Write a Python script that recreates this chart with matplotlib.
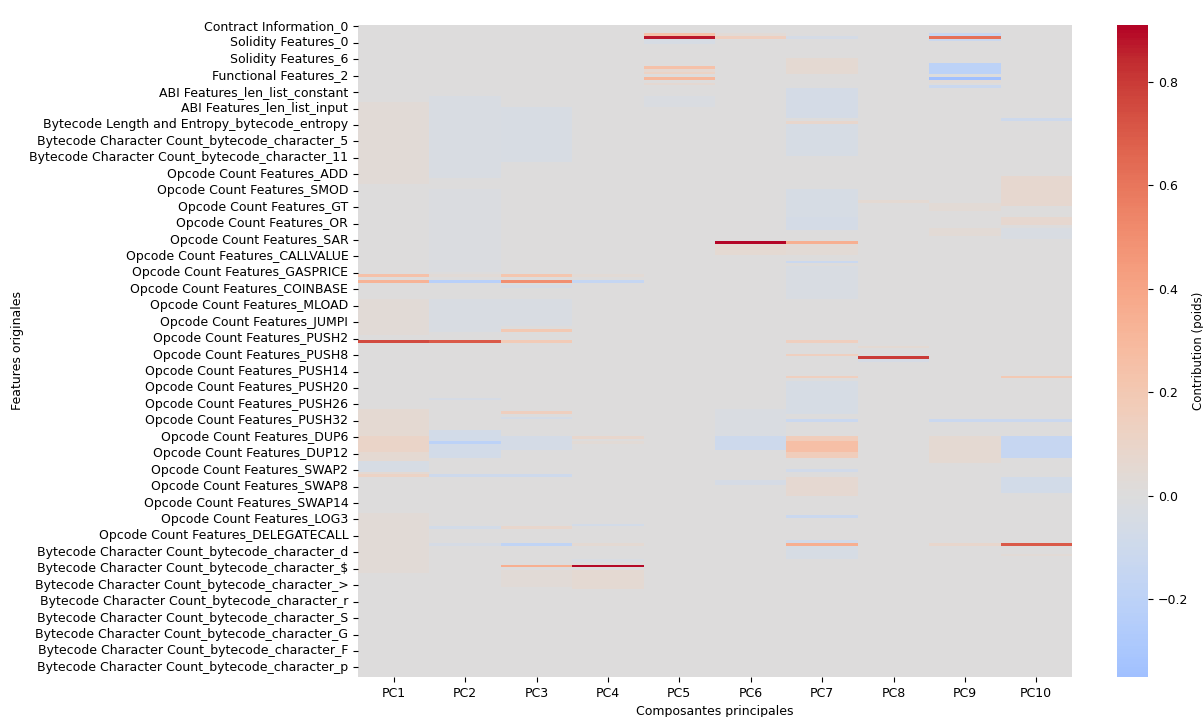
import matplotlib
matplotlib.use("Agg")
import matplotlib.pyplot as plt
import numpy as np
import pandas as pd
import seaborn as sns

# Feature names (row order of the loading matrix)
CONTRACT = ["Contract Information_%d" % i for i in range(6)]
SOLIDITY = ["Solidity Features_%d" % i for i in range(10)]
FUNCTIONAL = ["Functional Features_%d" % i for i in range(6)]
ABI = ["len_abi", "len_list_anonymous", "len_list_constant", "len_list_event",
       "len_list_fallback", "len_list_function", "len_list_indexed",
       "len_list_internalType", "len_list_input", "len_list_name",
       "len_list_output", "len_list_payable", "len_list_stateMutability"]
ENTROPY = ["bytecode_length", "bytecode_entropy"]
CHARS_A = [str(i) for i in range(16)]
OPCODES = (["STOP", "ADD", "MUL", "SUB", "DIV", "SDIV", "MOD", "SMOD", "ADDMOD",
            "MULMOD", "EXP", "SIGNEXTEND", "LT", "GT", "SLT", "SGT", "EQ", "ISZERO",
            "AND", "OR", "XOR", "NOT", "BYTE", "SHL", "SHR", "SAR", "SHA3",
            "ADDRESS", "BALANCE", "ORIGIN", "CALLER", "CALLVALUE", "CALLDATALOAD",
            "CALLDATASIZE", "CALLDATACOPY", "CODESIZE", "CODECOPY", "GASPRICE",
            "EXTCODESIZE", "EXTCODECOPY", "RETURNDATASIZE", "RETURNDATACOPY",
            "BLOCKHASH", "COINBASE", "TIMESTAMP", "NUMBER", "DIFFICULTY",
            "GASLIMIT", "POP", "MLOAD", "MSTORE", "MSTORE8", "SLOAD", "SSTORE",
            "JUMP", "JUMPI", "PC", "MSIZE", "GAS", "JUMPDEST"]
           + ["PUSH%d" % i for i in range(1, 33)]
           + ["DUP%d" % i for i in range(1, 17)]
           + ["SWAP%d" % i for i in range(1, 17)]
           + ["LOG%d" % i for i in range(5)]
           + ["CREATE", "CALL", "CALLCODE", "RETURN", "DELEGATECALL",
              "STATICCALL", "CREATE2", "REVERT", "INVALID", "SELFDESTRUCT"])
CHARS_B = ["d", "e", "f", "x", "!", "#", "$", "%", "&", "(", ")", "*", ">", "?",
           "@", "[", "]", "^", "r", "s", "t", "u", "v", "w", "S", "T", "U", "V",
           "W", "X", "G", "H", "I", "J", "K", "L", "F", "M", "N", "O", "P", "Q",
           "p", "q", "R", "Y"]

features = (CONTRACT + SOLIDITY + FUNCTIONAL
            + ["ABI Features_" + a for a in ABI]
            + ["Bytecode Length and Entropy_" + e for e in ENTROPY]
            + ["Bytecode Character Count_bytecode_character_" + c for c in CHARS_A]
            + ["Opcode Count Features_" + o for o in OPCODES]
            + ["Bytecode Character Count_bytecode_character_" + c for c in CHARS_B])

components = ["PC%d" % i for i in range(1, 11)]

# Loadings: (first_row, stop_row, value); everything else ~0
PC1 = [(28, 58, 0.035), (91, 92, 0.25), (93, 94, 0.33), (100, 113, 0.03),
       (115, 116, 0.75), (140, 164, 0.05), (150, 156, 0.1), (159, 163, -0.04),
       (164, 165, 0.12), (178, 200, 0.035)]
PC2 = [(26, 56, -0.03), (60, 90, -0.02), (91, 92, 0.03), (93, 94, -0.22),
       (100, 112, -0.03), (115, 116, 0.7), (136, 137, -0.05), (148, 158, -0.07),
       (152, 153, -0.2), (164, 165, -0.1), (183, 184, -0.07), (189, 190, -0.05)]
PC3 = [(30, 50, -0.035), (91, 92, 0.22), (93, 94, 0.5), (95, 96, -0.05),
       (100, 110, -0.03), (111, 112, 0.2), (115, 116, 0.18), (141, 142, 0.15),
       (143, 144, -0.06), (150, 155, -0.06), (164, 165, -0.1), (183, 184, 0.08),
       (189, 190, -0.18), (197, 198, 0.35), (199, 205, 0.03)]
PC4 = [(91, 92, 0.04), (93, 94, -0.15), (150, 151, 0.08), (152, 153, 0.04),
       (182, 183, -0.07), (189, 190, 0.05), (195, 196, -0.03), (197, 198, 0.9),
       (199, 206, 0.05)]
PC5 = [(3, 4, 0.25), (4, 5, 0.88), (5, 7, -0.04), (15, 16, 0.25), (16, 17, 0.06),
       (17, 18, 0.12), (19, 20, 0.3), (21, 22, 0.06), (26, 30, -0.025)]
PC6 = [(3, 4, 0.04), (4, 5, 0.15), (79, 80, 0.91), (80, 84, 0.05),
       (140, 150, -0.025), (150, 155, -0.1), (166, 168, -0.05)]
PC7 = [(4, 5, -0.06), (12, 18, 0.05), (23, 34, -0.06), (35, 36, 0.08),
       (36, 48, -0.04), (60, 70, -0.04), (70, 75, -0.06), (79, 80, 0.35),
       (80, 84, 0.04), (86, 87, -0.12), (88, 100, -0.03), (115, 116, 0.15),
       (120, 121, 0.15), (128, 129, 0.15), (130, 142, -0.04), (144, 145, -0.12),
       (150, 158, 0.16), (152, 156, 0.26), (162, 163, -0.08), (165, 172, 0.06),
       (179, 180, -0.12), (188, 189, -0.08), (189, 190, 0.35), (190, 195, -0.04)]
PC8 = [(64, 65, 0.05), (117, 118, 0.05), (121, 122, 0.8), (122, 123, -0.05)]
PC9 = [(3, 4, -0.15), (4, 5, 0.62), (5, 6, -0.12), (14, 18, -0.2),
       (19, 20, -0.35), (20, 21, 0.04), (22, 23, -0.12), (65, 68, 0.04),
       (74, 77, 0.04), (144, 145, -0.12), (150, 160, 0.05), (189, 190, 0.08)]
PC10 = [(34, 35, -0.1), (55, 66, 0.07), (70, 73, 0.07), (74, 78, -0.03),
        (128, 129, 0.2), (144, 145, -0.12), (150, 158, -0.14), (165, 171, -0.07),
        (189, 190, 0.7), (193, 194, 0.04)]

loadings = np.zeros((len(features), len(components)))
for j, bands in enumerate([PC1, PC2, PC3, PC4, PC5, PC6, PC7, PC8, PC9, PC10]):
    for start, stop, value in bands:
        loadings[start:stop, j] = value

df = pd.DataFrame(loadings, index=features, columns=components)

fig = plt.figure(figsize=(12.03, 7.17), dpi=100)
ax = fig.add_axes([358 / 1203, 1 - 677 / 717, 714 / 1203, 652 / 717])
cax = fig.add_axes([1117 / 1203, 1 - 677 / 717, 31 / 1203, 652 / 717])

sns.heatmap(df, cmap="coolwarm", center=0, ax=ax, cbar_ax=cax, yticklabels=6)

ax.set_xlabel("Composantes principales", fontsize=9)
ax.set_ylabel("Features originales", fontsize=9, labelpad=4)
ax.tick_params(axis="both", labelsize=9, length=3.5)
plt.setp(ax.get_xticklabels(), rotation=0)
plt.setp(ax.get_yticklabels(), rotation=0)
cax.tick_params(labelsize=9, length=3.5)
cax.set_ylabel("Contribution (poids)", fontsize=8.5, labelpad=3)

fig.savefig("out.png", dpi=100)
